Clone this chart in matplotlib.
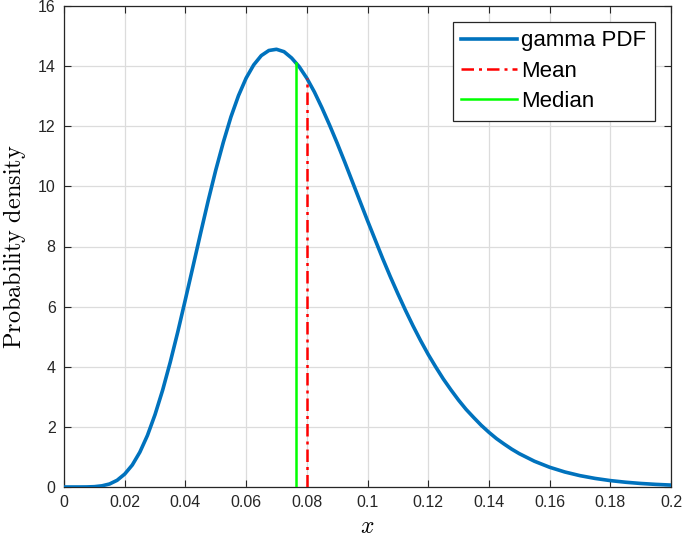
import matplotlib
matplotlib.use("Agg")
import matplotlib.pyplot as plt
from matplotlib.ticker import FuncFormatter

# curve
x_vals = [0, 0.005, 0.0075, 0.01, 0.0125, 0.015, 0.0175, 0.02, 0.0225, 0.025,
          0.0275, 0.03, 0.0325, 0.035, 0.0375, 0.04, 0.0425, 0.045, 0.0475, 0.05,
          0.0525, 0.055, 0.0575, 0.06, 0.0625, 0.065, 0.0675, 0.07, 0.0725, 0.075,
          0.0775, 0.08, 0.0825, 0.085, 0.0875, 0.09, 0.0925, 0.095, 0.0975, 0.1,
          0.1025, 0.105, 0.1075, 0.11, 0.1125, 0.115, 0.1175, 0.12, 0.1225, 0.125,
          0.1275, 0.13, 0.1325, 0.135, 0.1375, 0.14, 0.1425, 0.145, 0.1475, 0.15,
          0.155, 0.16, 0.165, 0.17, 0.175, 0.18, 0.185, 0.19, 0.195, 0.2]
pdf_vals = [0, 0.0002, 0.002, 0.011, 0.039, 0.10, 0.223, 0.43, 0.732, 1.16,
            1.717, 2.41, 3.222, 4.15, 5.163, 6.24, 7.335, 8.44, 9.52, 10.54,
            11.47, 12.31, 13.02, 13.60, 14.04, 14.35, 14.52, 14.56, 14.48, 14.27,
            13.98, 13.60, 13.14, 12.61, 12.04, 11.44, 10.81, 10.16, 9.51, 8.86,
            8.23, 7.60, 7.00, 6.43, 5.88, 5.36, 4.87, 4.41, 3.99, 3.59,
            3.23, 2.89, 2.58, 2.31, 2.05, 1.82, 1.61, 1.43, 1.26, 1.11,
            0.857, 0.657, 0.500, 0.378, 0.285, 0.213, 0.159, 0.118, 0.087, 0.064]

mean_x = 0.080
mean_y = 13.60
median_x = 0.0765
median_y = 14.11

x_ticks = [0, 0.02, 0.04, 0.06, 0.08, 0.1, 0.12, 0.14, 0.16, 0.18, 0.2]
y_ticks = [0, 2, 4, 6, 8, 10, 12, 14, 16]

plt.rcParams["font.family"] = ["Liberation Sans", "DejaVu Sans"]
plt.rcParams["mathtext.fontset"] = "cm"

fig = plt.figure(figsize=(6.85, 5.44), dpi=100)
ax = fig.add_axes([64 / 685, 57 / 544, 607 / 685, 481 / 544])

ax.plot(x_vals, pdf_vals, color="#0072BD", lw=2.6, label="gamma PDF", zorder=3)
ax.plot([mean_x, mean_x], [0, mean_y], color="red", lw=1.8, ls=(0, (5, 2, 1.2, 2)),
        label="Mean", zorder=4)
ax.plot([median_x, median_x], [0, median_y], color="#00FF00", lw=1.8,
        label="Median", zorder=4)

ax.set_xlim(0, 0.2)
ax.set_ylim(0, 16)
ax.set_xticks(x_ticks)
ax.set_yticks(y_ticks)
ax.xaxis.set_major_formatter(FuncFormatter(lambda v, p: "%g" % v))
ax.grid(True, color="#dcdcdc", lw=0.9)
ax.set_axisbelow(True)
ax.tick_params(direction="in", top=True, right=True, length=5, width=0.8,
               labelsize=11.5, colors="#262626", labelcolor="#262626", pad=6)
for s in ax.spines.values():
    s.set_color("#262626")
    s.set_linewidth(0.9)

ax.set_xlabel(r"$x$", fontsize=17, labelpad=4)
ax.set_ylabel(r"$\mathrm{Probability\ density}$", fontsize=17.5, labelpad=7)

leg = ax.legend(loc="upper right", fontsize=16, handlelength=2.5, handletextpad=0.2,
                borderpad=0.4, labelspacing=0.42, borderaxespad=0.7,
                fancybox=False, framealpha=1)
leg.get_frame().set_edgecolor("#262626")
leg.get_frame().set_linewidth(0.9)

fig.savefig("out.png", dpi=100)
